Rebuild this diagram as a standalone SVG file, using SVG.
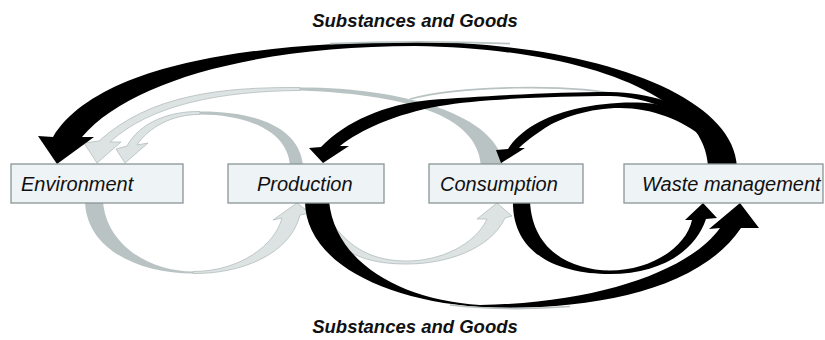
<svg xmlns="http://www.w3.org/2000/svg" width="825" height="340" viewBox="0 0 825 340">
<style>
.box{fill:#eef3f6;stroke:#8a9595;stroke-width:1.3}
.lbl{font-family:"Liberation Sans",Arial,sans-serif;font-style:italic;font-size:20px;fill:#111}
.ttl{font-family:"Liberation Sans",Arial,sans-serif;font-style:italic;font-weight:bold;font-size:18.5px;fill:#111}
.blk{fill:#000}
.gd{fill:#b9c3c3}
.gl{fill:#dde3e3;stroke:#b2bcbc;stroke-width:0.8}
.hl{fill:none;stroke:#b9c2c2;stroke-width:1.6}
</style>
<rect width="825" height="340" fill="#fff"/>
<text class="ttl" x="415" y="27" text-anchor="middle">Substances and Goods</text>
<text class="ttl" x="415" y="333" text-anchor="middle">Substances and Goods</text>
<g id="connectors">
  <g id="arrow-consumption-environment">
    <path class="gd" d="M503,166 C500,115 400,87 300,87.5 L300,90.5 C420,95 478,120 481,166 Z"/>
    <path class="gl" d="M300,87.5 C220,87 150,95 99,141 L84,143 L97,163 L121,142 L110,142 C150,105 220,91 300,90.5 Z"/>
  </g>
  <g id="arrow-production-environment">
    <path class="gd" d="M303,166 C300,125 250,111 200,111.5 L200,114.5 C245,114.5 288,130 290,166 Z"/>
    <path class="gl" d="M200,111.5 C170,111 140,122 127,146 L116,149 L125,163 L148,143 L137,145 C148,128 172,114 200,114.5 Z"/>
  </g>
  <g id="arrow-environment-production">
    <path class="gd" d="M85,201 C86,250 140,273.5 193,273.5 L193,271.5 C150,271.5 106,245 103,201 Z"/>
    <path class="gl" d="M193,273.5 C240,274 290,255 300,215 L310,213 L297,203 L273,220 L282,218 C275,245 240,271.5 193,271.5 Z"/>
  </g>
  <g id="arrow-production-consumption">
    <path class="gl" d="M318,226 C345,258 375,264 407,264 C445,264 490,250 505,218 L512,216 L497,203 L477,219 L487,219 C475,245 440,261 407,261 C375,261 350,250 330,220 Z"/>
  </g>
  <g id="arrow-waste-consumption">
    <path class="blk" d="M508,149 C520,130 545,116 575,109 C610,101 650,100 672,108 C684,113 694,120 703,130 L704,138 C682,120 652,108 620,108 C590,108 560,118 545,128 C533,136 525,142 519,148 L525,148 L501,163 L496,150 Z"/>
  </g>
  <g id="arrow-waste-production">
    <path class="hl" d="M410,99 C460,86 570,83 625,96"/>
    <path class="blk" d="M321,147 C345,122 385,104 430,100 C480,96 560,92 610,92 C650,93 685,104 701,122 L702,130 C680,112 648,97 610,96 C560,96 480,99 440,106 C395,114 360,130 340,146 L349,146 L323,163 L309,148 Z"/>
  </g>
  <g id="arrow-waste-environment">
    <path class="blk" d="M737,166 C733,92 585,42 415,42 C240,42 95,68 53,137 L38,136 L57,164 L94,137 L82,137 C130,80 260,46 415,46 C580,48 705,95 708,166 Z"/>
    <path class="hl" d="M330,43.6 C380,41.6 450,41.4 510,43.6"/>
  </g>
  <g id="arrow-consumption-waste">
    <path class="blk" d="M513,201 C512,255 560,274 610,274 C660,274 695,252 706,219 L717,218 L703,203 L685,220 L692,220 C686,248 650,270.5 610,270.5 C570,270 532,250 530,201 Z"/>
  </g>
  <g id="arrow-production-waste">
    <path class="blk" d="M305,201 C305,260 380,300 480,307 C590,312 700,290 741,228 L759,228 L740,203 L709,229 L720,228 C690,270 600,303 480,305 C400,300 335,262 329,201 Z"/>
    <path class="hl" d="M450,305 C490,309.5 530,309.5 570,306.5"/>
  </g>
</g>
<g id="node-environment">
  <rect class="box" x="11" y="164" width="172" height="39"/>
  <text class="lbl" x="21" y="191">Environment</text>
</g>
<g id="node-production">
  <rect class="box" x="228" y="164" width="156" height="39"/>
  <text class="lbl" x="257" y="191">Production</text>
</g>
<g id="node-consumption">
  <rect class="box" x="429" y="164" width="154" height="39"/>
  <text class="lbl" x="440" y="191">Consumption</text>
</g>
<g id="node-waste-management">
  <rect class="box" x="624" y="164" width="199" height="39"/>
  <text class="lbl" x="642" y="191">Waste management</text>
</g>
</svg>
